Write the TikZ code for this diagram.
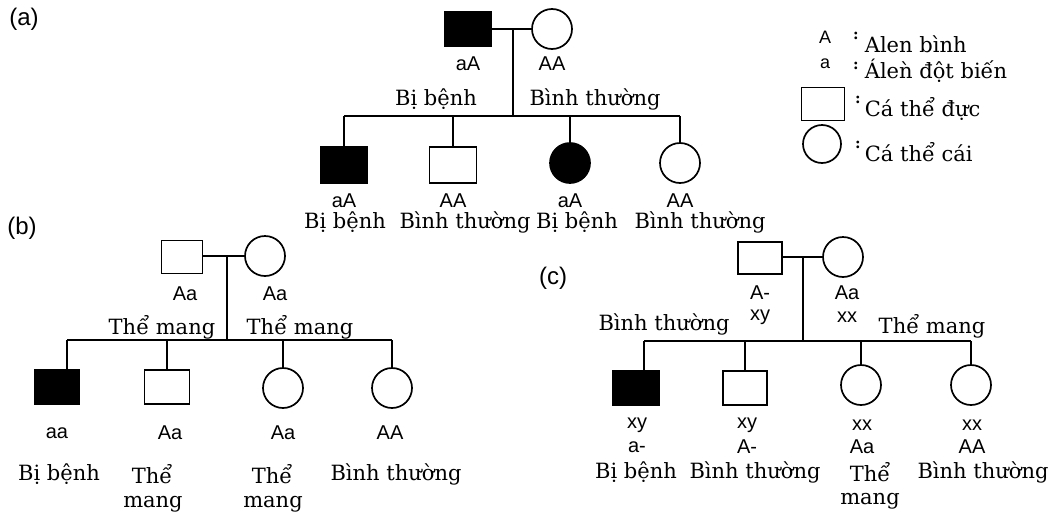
\documentclass[tikz,border=0pt]{standalone}
\usepackage{fontspec}
\setmainfont{DejaVu Serif}
\setsansfont{Liberation Sans}
\begin{document}
\begin{tikzpicture}[x=1pt,y=-1pt,
  line width=1.7pt,
  male/.style={draw, line width=1.7pt, minimum width=46pt, minimum height=35pt, inner sep=0pt},
  female/.style={draw, circle, line width=1.7pt, minimum size=40pt, inner sep=0pt},
  aff/.style={fill=black},
  lbl/.style={font=\fontsize{21}{23}\selectfont, inner sep=0pt},
  geno/.style={font=\sffamily\fontsize{20}{22}\selectfont, inner sep=0pt},
  tag/.style={font=\sffamily\fontsize{24}{26}\selectfont, inner sep=0pt},
  colon/.style={font=\fontsize{15}{16}\selectfont\bfseries, inner sep=0pt}]
\useasboundingbox[fill=white] (0,0) rectangle (1051,517);

% ---------- panel (a) ----------
\node[tag] (ta) at (24,19) {(a)};
\node[male,aff] (aF) at (468,29) {};
\node[female] (aM) at (552,29) {};
\draw (aF) -- (aM);
\coordinate (aJ) at (513,29);
\coordinate (aB) at (513,116);
\draw (aJ) -- (aB);
\node[male,aff,minimum width=47pt,minimum height=36pt] (aC1) at (344,165) {};
\node[male,minimum width=47pt,minimum height=36pt] (aC2) at (453,165) {};
\node[female,aff] (aC3) at (570,163) {};
\node[female] (aC4) at (680,163) {};
\coordinate (aL) at (344,116);
\coordinate (aR) at (680,116);
\draw (aL) -- (aR);
\draw (aL) -- (aC1);
\draw (aC2.north |- aB) -- (aC2);
\draw (aC3.north |- aB) -- (aC3);
\draw (aR) -- (aC4);
\node[geno] (gaF) at (468,64) {aA};
\node[geno] (gaM) at (552,64) {AA};
\node[lbl] (saL) at (436,99) {Bị bệnh};
\node[lbl] (saR) at (595,99) {Bình thường};
\node[geno] (ga1) at (344,201) {aA};
\node[geno] (ga2) at (453,201) {AA};
\node[geno] (ga3) at (570,201) {aA};
\node[geno] (ga4) at (680,201) {AA};
\node[lbl] (sa1) at (345,222) {Bị bệnh};
\node[lbl] (sa2) at (465,222) {Bình thường};
\node[lbl] (sa3) at (577,222) {Bị bệnh};
\node[lbl] (sa4) at (700,222) {Bình thường};

% ---------- legend ----------
\node[geno,font=\sffamily\fontsize{18}{20}\selectfont] (lA) at (825,37) {A};
\node[colon] (lc1) at (856,36) {:};
\node[lbl,anchor=west] (lt1) at (864,44) {Alen bình};
\node[geno,font=\sffamily\fontsize{18}{20}\selectfont] (la) at (825,64) {a};
\node[colon] (lc2) at (856,66) {:};
\node[lbl,anchor=west] (lt2) at (864,71) {Áleǹ đột biến};
\node[male,minimum width=43pt,minimum height=33pt] (lsq) at (823,104) {};
\node[colon] (lc3) at (858,100) {:};
\node[lbl,anchor=west] (lt3) at (864,109) {Cá thể đực};
\node[female,minimum size=38pt] (lci) at (822,144) {};
\node[colon] (lc4) at (858,145) {:};
\node[lbl,anchor=west] (lt4) at (864,152) {Cá thể cái};

% ---------- panel (b) ----------
\node[tag] (tb) at (22,228) {(b)};
\node[male,minimum width=41pt,minimum height=33pt] (bF) at (182,257) {};
\node[female] (bM) at (265,256) {};
\draw (bF.east |- bM) -- (bM);
\coordinate (bJ) at (227,256);
\coordinate (bB) at (227,340);
\draw (bJ) -- (bB);
\node[male,aff,minimum width=45pt,minimum height=34pt] (bC1) at (57,387) {};
\node[male,minimum width=45pt,minimum height=34pt] (bC2) at (167,387) {};
\node[female] (bC3) at (283,388) {};
\node[female] (bC4) at (392,388) {};
\coordinate (bL) at (67,340);
\coordinate (bR) at (392,340);
\draw (bL) -- (bR);
\draw (bL) -- (bL |- bC1.north);
\draw (bC2.north |- bB) -- (bC2);
\draw (bC3.north |- bB) -- (bC3);
\draw (bR) -- (bC4);
\node[geno] (gbF) at (185,294) {Aa};
\node[geno] (gbM) at (275,294) {Aa};
\node[lbl] (sbL) at (162,327) {Thể mang};
\node[lbl] (sbR) at (300,327) {Thể mang};
\node[geno] (gb1) at (57,433) {aa};
\node[geno] (gb2) at (170,433) {Aa};
\node[geno] (gb3) at (283,433) {Aa};
\node[geno] (gb4) at (390,433) {AA};
\node[lbl] (sb1) at (59,474) {Bị bệnh};
\node[lbl] (sb2) at (152,474) {Thể};
\node[lbl] (sb2m) at (153,504) {mang};
\node[lbl] (sb3) at (272,474) {Thể};
\node[lbl] (sb3m) at (273,504) {mang};
\node[lbl] (sb4) at (396,474) {Bình thường};

% ---------- panel (c) ----------
\node[tag] (tc) at (553,278) {(c)};
\node[male,minimum width=44pt,minimum height=32pt] (cF) at (760,258) {};
\node[female] (cM) at (843,257) {};
\draw (cF.east |- cM) -- (cM);
\coordinate (cJ) at (803,257);
\coordinate (cB) at (803,341);
\draw (cJ) -- (cB);
\node[male,aff,minimum width=46pt,minimum height=34pt] (cC1) at (636,388) {};
\node[male,minimum width=44pt,minimum height=34pt] (cC2) at (745,388) {};
\node[female] (cC3) at (861,385) {};
\node[female] (cC4) at (971,385) {};
\coordinate (cL) at (644,341);
\coordinate (cR) at (971,341);
\draw (cL) -- (cR);
\draw (cL) -- (cL |- cC1.north);
\draw (cC2.north |- cB) -- (cC2);
\draw (cC3.north |- cB) -- (cC3);
\draw (cR) -- (cC4);
\node[geno] (gcF1) at (760,293) {A-};
\node[geno] (gcF2) at (760,317) {xy};
\node[geno] (gcM1) at (847,293) {Aa};
\node[geno] (gcM2) at (847,317) {xx};
\node[lbl] (scL) at (664,324) {Bình thường};
\node[lbl] (scR) at (932,326) {Thể mang};
\node[geno] (gc1a) at (637,425) {xy};
\node[geno] (gc1b) at (637,447) {a-};
\node[geno] (gc2a) at (747,425) {xy};
\node[geno] (gc2b) at (747,447) {A-};
\node[geno] (gc3a) at (862,425) {xx};
\node[geno] (gc3b) at (862,447) {Aa};
\node[geno] (gc4a) at (972,425) {xx};
\node[geno] (gc4b) at (972,447) {AA};
\node[lbl] (sc1) at (636,472) {Bị bệnh};
\node[lbl] (sc2) at (755,472) {Bình thường};
\node[lbl] (sc3) at (870,472) {Thể};
\node[lbl] (sc3m) at (870,501) {mang};
\node[lbl] (sc4) at (983,472) {Bình thường};
\end{tikzpicture}
\end{document}
